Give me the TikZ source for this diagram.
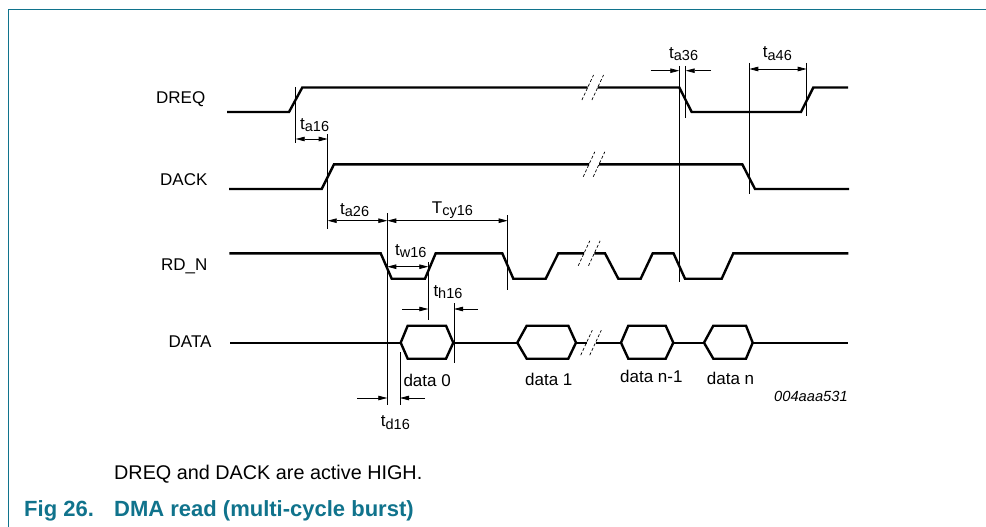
\documentclass[tikz,border=0pt]{standalone}
\usepackage{fontspec}
\setmainfont{Liberation Sans}
\usetikzlibrary{arrows.meta}
\definecolor{nxpteal}{RGB}{16,115,140}
\newcommand\tsub[2]{#1\raisebox{-2.5pt}{\fontsize{14.5}{15}\selectfont #2}}
\newcommand\brkmark[3]{%
  \draw[brkline] (#1-5.8,#3+12.5) -- (#1+5.8,#3-12.5);
  \draw[brkline] (#2-5.8,#3+12.5) -- (#2+5.8,#3-12.5);}
\begin{document}
\begin{tikzpicture}[x=1pt,y=-1pt,
  sig/.style={line width=2.4pt, line join=miter, line cap=butt},
  tick/.style={line width=0.8pt},
  dimline/.style={line width=0.8pt, {Triangle[length=9pt,width=4.5pt]}-{Triangle[length=9pt,width=4.5pt]}},
  arrline/.style={line width=0.8pt, -{Triangle[length=9pt,width=4.5pt]}},
  brkline/.style={line width=0.7pt, dash pattern=on 3pt off 2pt},
  lbl/.style={anchor=base west, inner sep=0pt, font=\fontsize{17}{20}\selectfont},
  smalllbl/.style={anchor=base west, inner sep=0pt, font=\fontsize{14.7}{17}\selectfont\itshape},
  frame/.style={draw=nxpteal, line width=1.2pt}]
\useasboundingbox (0,0) rectangle (986,527);
% frame
\draw[frame] (8.5,527) -- (8.5,9.5) -- (986,9.5);

% signal names
\node[lbl] (ndreq) at (156,103.3) {DREQ};
\node[lbl] (ndack) at (160,185.7) {DACK};
\node[lbl] (nrdn) at (161,270.7) {RD\_N};
\node[lbl] (ndata) at (168.5,347.3) {DATA};

% DREQ
\draw[sig] (227,112) -- (289,112) -- (302.3,87.5) -- (587.7,87.5);
\draw[sig] (597.7,87.5) -- (679.3,87.5) -- (691.7,112) -- (801,112) -- (813.3,87.5) -- (848,87.5);
\brkmark{587.7}{597.7}{87.5}
% DACK
\draw[sig] (229,189) -- (321.7,189) -- (334,164.3) -- (589,164.3);
\draw[sig] (599,164.3) -- (742.3,164.3) -- (755,189) -- (849,189);
\brkmark{589}{599}{164.3}
% RD_N
\draw[sig] (229.3,253.3) -- (380.7,253.3) -- (391.7,278.7) -- (425,278.7) -- (435.7,253.3)
  -- (502.3,253.3) -- (513.3,278.7) -- (545.7,278.7) -- (558.3,253.3) -- (584,253.3);
\draw[sig] (594.3,253.3) -- (605,253.3) -- (618.3,278.7) -- (640.7,278.7) -- (652.7,253.3)
  -- (673.5,253.3) -- (685,278.7) -- (721.7,278.7) -- (733.3,253.3) -- (848.3,253.3);
\brkmark{584}{594.3}{253.3}
% DATA
\draw[sig] (230,342.7) -- (400.7,342.7);
\draw[sig] (400.7,342.7) -- (407.7,325.7) -- (446,325.7) -- (453.3,342.7) -- (446,358.7) -- (407.7,358.7) -- cycle;
\draw[sig] (453.3,342.7) -- (517.3,342.7);
\draw[sig] (517.3,342.7) -- (526.7,325.7) -- (568.3,325.7) -- (576,342.7) -- (568.3,358.7) -- (526.7,358.7) -- cycle;
\draw[sig] (576,342.7) -- (586.5,342.7);
\draw[sig] (595.5,342.7) -- (621,342.7);
\draw[sig] (621,342.7) -- (628.3,325.7) -- (665.7,325.7) -- (673.3,342.7) -- (665.7,358.7) -- (628.3,358.7) -- cycle;
\draw[sig] (673.3,342.7) -- (704,342.7);
\draw[sig] (704,342.7) -- (713.3,325.7) -- (746,325.7) -- (752.7,342.7) -- (746,358.7) -- (713.3,358.7) -- cycle;
\draw[sig] (752.7,342.7) -- (848.3,342.7);
\brkmark{586.5}{595.5}{342.7}

% timing ticks
\draw[tick] (295.7,87) -- (295.7,143);
\draw[tick] (327.7,134) -- (327.7,229);
\draw[tick] (387.3,213) -- (387.3,405);
\draw[tick] (428.3,262) -- (428.3,320);
\draw[tick] (454,303) -- (454,363);
\draw[tick] (400,352) -- (400,405);
\draw[tick] (507.7,215) -- (507.7,290);
\draw[tick] (679.3,66) -- (679.3,282);
\draw[tick] (685.7,66) -- (685.7,118);
\draw[tick] (749.3,63) -- (749.3,194);
\draw[tick] (806.7,63) -- (806.7,116);

% dimension arrows
\draw[dimline] (295.7,139) -- (327.7,139);
\draw[dimline] (327.7,220.7) -- (387.3,220.7);
\draw[dimline] (387.3,220.7) -- (507.7,220.7);
\draw[dimline] (387.3,266.7) -- (428.3,266.7);
\draw[dimline] (749.3,69) -- (806.7,69);
\draw[arrline] (650.7,70.7) -- (679.3,70.7);
\draw[arrline] (711,70.7) -- (685.7,70.7);
\draw[arrline] (402.3,309) -- (428.3,309);
\draw[arrline] (478,309) -- (454,309);
\draw[arrline] (357.3,398) -- (387.3,398);
\draw[arrline] (425,398) -- (400,398);

% timing labels
\node[lbl] (lta16) at (300,129) {\tsub{t}{a16}};
\node[lbl] (lta26) at (340,214) {\tsub{t}{a26}};
\node[lbl] (ltcy16) at (431.7,213) {\tsub{T}{cy16}};
\node[lbl] (ltw16) at (395,255) {\tsub{t}{w16}};
\node[lbl] (lth16) at (433.3,296) {\tsub{t}{h16}};
\node[lbl] (ltd16) at (380.7,426.7) {\tsub{t}{d16}};
\node[lbl] (lta36) at (669,58.3) {\tsub{t}{a36}};
\node[lbl] (lta46) at (762.7,57.8) {\tsub{t}{a46}};

% data labels
\node[lbl] (ld0) at (403.3,386) {data 0};
\node[lbl] (ld1) at (525,385) {data 1};
\node[lbl] (ldn1) at (620,382.7) {data n-1};
\node[lbl] (ldn) at (706.7,384) {data n};
\node[smalllbl] (lid) at (774,401.7) {004aaa531};

% footnote and caption
\node[anchor=base west, inner sep=0pt, font=\fontsize{19.8}{22}\selectfont] (note) at (114,479.3) {DREQ and DACK are active HIGH.};
\node[anchor=base west, inner sep=0pt, font=\fontsize{22}{24}\selectfont\bfseries, text=nxpteal] (figno) at (24,516.7) {Fig 26.};
\node[anchor=base west, inner sep=0pt, font=\fontsize{22}{24}\selectfont\bfseries, text=nxpteal] (figtitle) at (114,516.7) {DMA read (multi-cycle burst)};
\end{tikzpicture}
\end{document}
